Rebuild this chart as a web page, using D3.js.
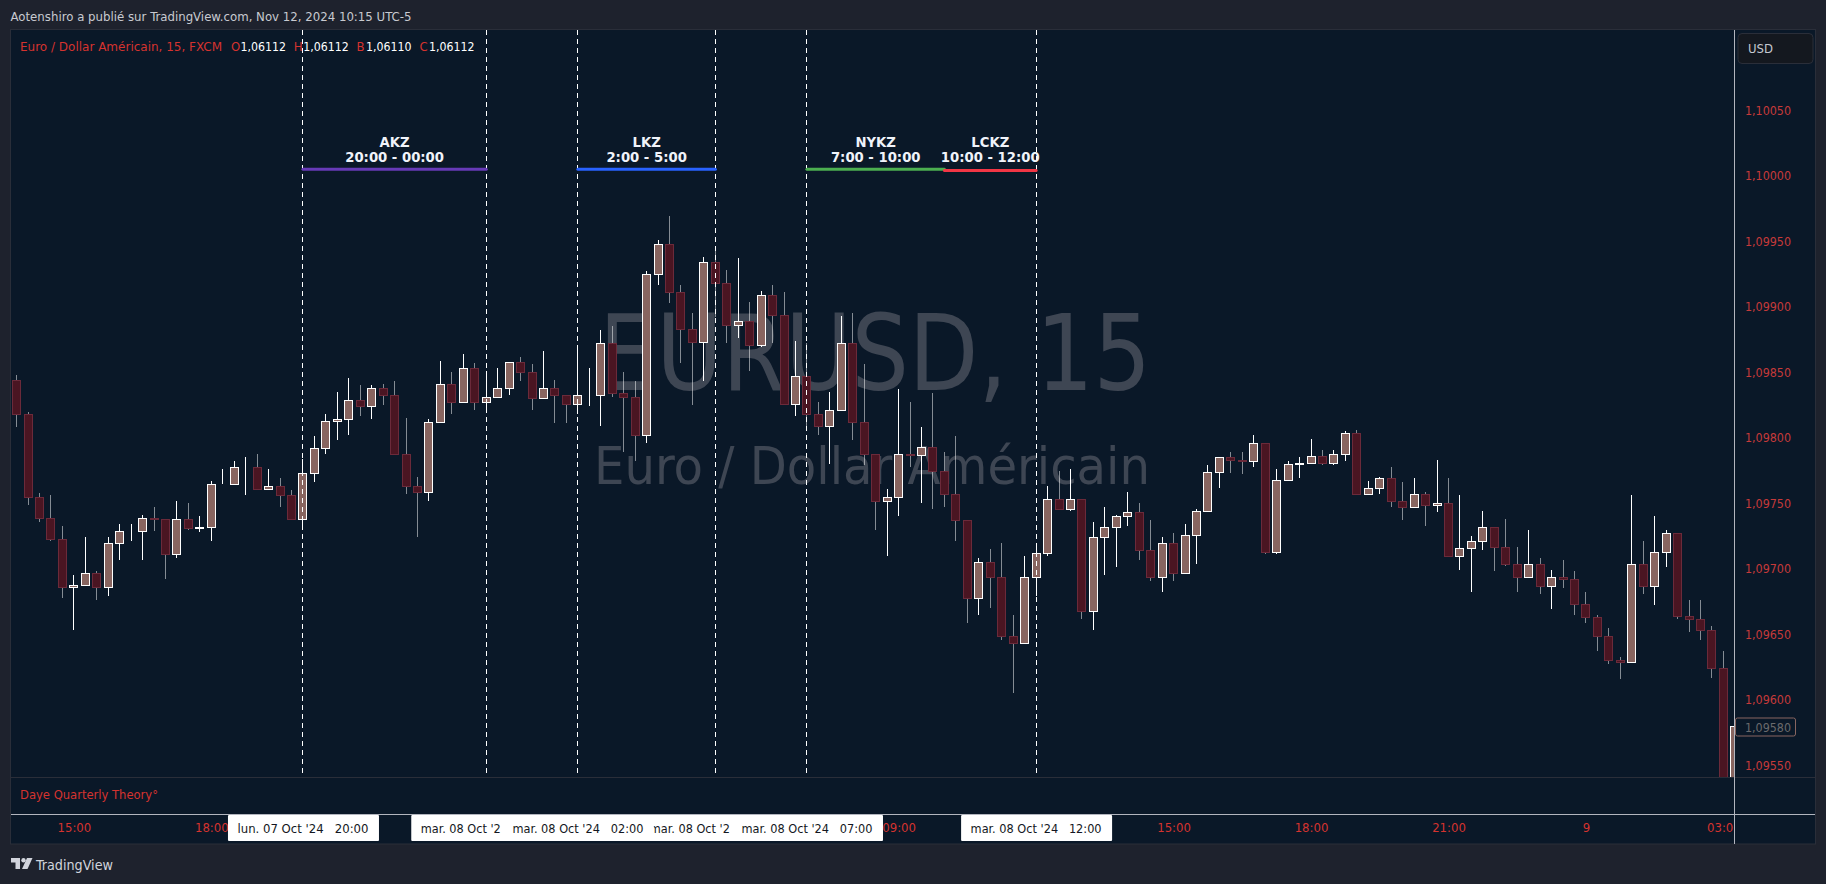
<!DOCTYPE html>
<html>
<head>
<meta charset="utf-8">
<script src="https://cdn.jsdelivr.net/npm/d3@7"></script>
<style>
    html, body { margin: 0; padding: 0; background: #1e222d; overflow: hidden; }
    svg { display: block; }
    text { font-family: 'DejaVu Sans Condensed', 'DejaVu Sans', sans-serif; font-stretch: condensed; white-space: pre; }
</style>
</head>
<body>
<svg id="chart" width="1826" height="884"></svg>
<script>
// Values, one entry per 15 minute bar
const opens = [
    1.09844, 1.09818, 1.09755, 1.09739, 1.09723, 1.09686, 1.09688, 1.09697, 1.09686, 1.09720,
    1.09729, 1.09729, 1.09739, 1.09738, 1.09711, 1.09738, 1.09731, 1.09732, 1.09765, 1.09765,
    1.09778, 1.09778, 1.09761, 1.09763, 1.09756, 1.09738, 1.09773, 1.09792, 1.09813, 1.09814,
    1.09829, 1.09824, 1.09838, 1.09833, 1.09788, 1.09763, 1.09759, 1.09812, 1.09841, 1.09827,
    1.09853, 1.09827, 1.09831, 1.09838, 1.09858, 1.09850, 1.09830, 1.09838, 1.09833, 1.09826,
    1.09833, 1.09833, 1.09872, 1.09834, 1.09831, 1.09802, 1.09925, 1.09948, 1.09911, 1.09883,
    1.09873, 1.09934, 1.09918, 1.09886, 1.09889, 1.09871, 1.09909, 1.09894, 1.09826, 1.09847,
    1.09818, 1.09809, 1.09821, 1.09872, 1.09812, 1.09788, 1.09752, 1.09755, 1.09788, 1.09787,
    1.09793, 1.09775, 1.09757, 1.09737, 1.09678, 1.09705, 1.09694, 1.09649, 1.09643, 1.09694,
    1.09712, 1.09753, 1.09746, 1.09753, 1.09668, 1.09724, 1.09732, 1.09740, 1.09743, 1.09714,
    1.09694, 1.09720, 1.09697, 1.09726, 1.09744, 1.09774, 1.09785, 1.09783, 1.09782, 1.09796,
    1.09713, 1.09768, 1.09780, 1.09781, 1.09786, 1.09781, 1.09788, 1.09804, 1.09757, 1.09762,
    1.09769, 1.09752, 1.09747, 1.09757, 1.09749, 1.09750, 1.09710, 1.09716, 1.09721, 1.09732,
    1.09717, 1.09704, 1.09694, 1.09704, 1.09687, 1.09694, 1.09692, 1.09673, 1.09663, 1.09649,
    1.09630, 1.09629, 1.09704, 1.09687, 1.09713, 1.09727, 1.09664, 1.09662, 1.09653, 1.09624,
    1.09530,
]
const highs = [
    1.09848, 1.09820, 1.09758, 1.09756, 1.09733, 1.09695, 1.09724, 1.09698, 1.09724, 1.09734,
    1.09734, 1.09741, 1.09747, 1.09738, 1.09752, 1.09750, 1.09740, 1.09767, 1.09776, 1.09782,
    1.09785, 1.09788, 1.09776, 1.09769, 1.09760, 1.09784, 1.09801, 1.09818, 1.09835, 1.09846,
    1.09840, 1.09840, 1.09841, 1.09843, 1.09815, 1.09770, 1.09814, 1.09859, 1.09850, 1.09864,
    1.09857, 1.09851, 1.09853, 1.09858, 1.09862, 1.09856, 1.09866, 1.09844, 1.09833, 1.09868,
    1.09853, 1.09882, 1.09885, 1.09850, 1.09843, 1.09927, 1.09951, 1.09969, 1.09917, 1.09895,
    1.09938, 1.09943, 1.09928, 1.09937, 1.09904, 1.09912, 1.09917, 1.09911, 1.09874, 1.09872,
    1.09827, 1.09835, 1.09893, 1.09895, 1.09856, 1.09788, 1.09761, 1.09837, 1.09827, 1.09808,
    1.09834, 1.09789, 1.09801, 1.09737, 1.09708, 1.09715, 1.09720, 1.09665, 1.09710, 1.09720,
    1.09763, 1.09775, 1.09776, 1.09753, 1.09736, 1.09747, 1.09741, 1.09759, 1.09750, 1.09737,
    1.09724, 1.09727, 1.09734, 1.09746, 1.09779, 1.09785, 1.09789, 1.09789, 1.09802, 1.09796,
    1.09776, 1.09782, 1.09785, 1.09799, 1.09791, 1.09791, 1.09805, 1.09806, 1.09767, 1.09770,
    1.09778, 1.09766, 1.09769, 1.09759, 1.09783, 1.09769, 1.09756, 1.09725, 1.09744, 1.09732,
    1.09738, 1.09717, 1.09730, 1.09708, 1.09699, 1.09707, 1.09698, 1.09682, 1.09665, 1.09655,
    1.09633, 1.09756, 1.09721, 1.09740, 1.09730, 1.09727, 1.09676, 1.09676, 1.09656, 1.09637,
    1.09580,
]
const lows = [
    1.09808, 1.09749, 1.09736, 1.09721, 1.09678, 1.09653, 1.09688, 1.09676, 1.09679, 1.09707,
    1.09721, 1.09707, 1.09729, 1.09692, 1.09708, 1.09730, 1.09728, 1.09721, 1.09765, 1.09765,
    1.09756, 1.09760, 1.09760, 1.09747, 1.09738, 1.09730, 1.09766, 1.09788, 1.09798, 1.09802,
    1.09817, 1.09814, 1.09825, 1.09788, 1.09757, 1.09724, 1.09752, 1.09812, 1.09818, 1.09827,
    1.09821, 1.09821, 1.09831, 1.09833, 1.09843, 1.09821, 1.09830, 1.09811, 1.09811, 1.09818,
    1.09824, 1.09809, 1.09831, 1.09789, 1.09782, 1.09796, 1.09917, 1.09903, 1.09857, 1.09825,
    1.09843, 1.09892, 1.09872, 1.09876, 1.09851, 1.09869, 1.09872, 1.09826, 1.09817, 1.09809,
    1.09802, 1.09780, 1.09821, 1.09798, 1.09779, 1.09730, 1.09710, 1.09740, 1.09778, 1.09750,
    1.09746, 1.09747, 1.09721, 1.09659, 1.09665, 1.09670, 1.09646, 1.09605, 1.09643, 1.09679,
    1.09710, 1.09746, 1.09744, 1.09662, 1.09653, 1.09695, 1.09701, 1.09733, 1.09707, 1.09691,
    1.09682, 1.09691, 1.09697, 1.09704, 1.09743, 1.09762, 1.09773, 1.09772, 1.09778, 1.09711,
    1.09711, 1.09767, 1.09769, 1.09780, 1.09779, 1.09779, 1.09782, 1.09757, 1.09756, 1.09757,
    1.09747, 1.09737, 1.09747, 1.09733, 1.09743, 1.09710, 1.09699, 1.09682, 1.09714, 1.09698,
    1.09702, 1.09682, 1.09694, 1.09681, 1.09669, 1.09685, 1.09665, 1.09659, 1.09637, 1.09627,
    1.09616, 1.09629, 1.09681, 1.09672, 1.09701, 1.09662, 1.09652, 1.09646, 1.09617, 1.09525,
    1.09525,
]
const closes = [
    1.09818, 1.09755, 1.09739, 1.09723, 1.09686, 1.09688, 1.09697, 1.09686, 1.09720, 1.09729,
    1.09729, 1.09739, 1.09738, 1.09711, 1.09738, 1.09731, 1.09732, 1.09765, 1.09765, 1.09778,
    1.09778, 1.09761, 1.09763, 1.09756, 1.09738, 1.09773, 1.09792, 1.09813, 1.09814, 1.09829,
    1.09824, 1.09838, 1.09833, 1.09788, 1.09763, 1.09759, 1.09812, 1.09841, 1.09827, 1.09853,
    1.09827, 1.09831, 1.09838, 1.09858, 1.09850, 1.09830, 1.09838, 1.09833, 1.09826, 1.09833,
    1.09833, 1.09872, 1.09834, 1.09831, 1.09802, 1.09925, 1.09948, 1.09911, 1.09883, 1.09873,
    1.09934, 1.09918, 1.09886, 1.09889, 1.09871, 1.09909, 1.09894, 1.09826, 1.09847, 1.09818,
    1.09809, 1.09821, 1.09872, 1.09812, 1.09788, 1.09752, 1.09755, 1.09788, 1.09787, 1.09793,
    1.09775, 1.09757, 1.09737, 1.09678, 1.09705, 1.09694, 1.09649, 1.09643, 1.09694, 1.09712,
    1.09753, 1.09746, 1.09753, 1.09668, 1.09724, 1.09732, 1.09740, 1.09743, 1.09714, 1.09694,
    1.09720, 1.09697, 1.09726, 1.09744, 1.09774, 1.09785, 1.09783, 1.09782, 1.09796, 1.09713,
    1.09768, 1.09780, 1.09781, 1.09786, 1.09781, 1.09788, 1.09804, 1.09757, 1.09762, 1.09769,
    1.09752, 1.09747, 1.09757, 1.09749, 1.09750, 1.09710, 1.09716, 1.09721, 1.09732, 1.09717,
    1.09704, 1.09694, 1.09704, 1.09687, 1.09694, 1.09692, 1.09673, 1.09663, 1.09649, 1.09630,
    1.09629, 1.09704, 1.09687, 1.09713, 1.09727, 1.09664, 1.09662, 1.09653, 1.09624, 1.09530,
    1.09580,
]

const priceTicks = [1.1005, 1.1, 1.0995, 1.099, 1.0985, 1.098, 1.0975, 1.097, 1.0965, 1.096, 1.0955]
const lastPrice = 1.0958

// Time axis labels and the bar they sit under
const timeTickBars = [5, 17, 77, 89, 101, 113, 125, 137, 149]
const timeTickLabels = ['15:00', '18:00', '09:00', '12:00', '15:00', '18:00', '21:00', '9', '03:00']

// Kill zones
const zoneNames = ['AKZ', 'LKZ', 'NYKZ', 'LCKZ']
const zoneTimes = ['20:00 - 00:00', '2:00 - 5:00', '7:00 - 10:00', '10:00 - 12:00']
const zoneStarts = [25, 49, 69, 81]
const zoneEnds = [41, 61, 81, 89]
const zonePrices = [1.10005, 1.10005, 1.10005, 1.10004]
const zoneColors = ['#673ab7', '#2962ff', '#4caf50', '#f23645']

// Vertical session lines and their axis tags. Two tags are cut short by their neighbours
const sessionBars = [25, 41, 49, 61, 69, 89]
const sessionTags = [
    "lun. 07 Oct '24   20:00",
    "mar. 08 Oct '2",
    "mar. 08 Oct '24   02:00",
    "mar. 08 Oct '2",
    "mar. 08 Oct '24   07:00",
    "mar. 08 Oct '24   12:00",
]
// Stacking order of the tags on the axis
const tagOrder = [0, 1, 3, 2, 4, 5]

const legendLabels = ['O', 'H', 'B', 'C']
const legendValues = ['1,06112', '1,06112', '1,06110', '1,06112']

const RED = '#d5332f'
const AXIS_RED = '#c63a3a'
const PANE = '#0a1828'
const BORDER = '#2a2e39'

const fmtPrice = (d) => d3.format('.5f')(d).replace('.', ',')

const svg = d3.select('#chart')

const x = d3.scaleLinear().domain([0, 150]).range([16.6, 1734.85])
const y = d3.scaleLinear().domain([1.0955, 1.1005]).range([765.3, 110.3])
const px = (i) => Math.floor(x(i)) + 0.5
const py = (p) => Math.round(y(p))

// Background panes
svg.append('rect').attr('x', 10.5).attr('y', 29.5).attr('width', 1805).attr('height', 814.5)
    .attr('fill', PANE).attr('stroke', BORDER)

svg.append('defs').append('clipPath').attr('id', 'pane-clip')
    .append('rect').attr('x', 11).attr('y', 30).attr('width', 1723).attr('height', 747)
svg.select('defs').append('clipPath').attr('id', 'time-clip')
    .append('rect').attr('x', 11).attr('y', 815).attr('width', 1723).attr('height', 29)

// Watermark
const watermark = svg.append('g').attr('fill', '#3e4653').attr('text-anchor', 'middle')
    .style('font-stretch', 'normal')
watermark.append('text').attr('x', 875).attr('y', 390).attr('font-size', 106)
    .attr('textLength', 552).attr('lengthAdjust', 'spacingAndGlyphs')
    .style('font-family', "'DejaVu Sans', sans-serif").text('EURUSD, 15')
watermark.append('text').attr('x', 872).attr('y', 484).attr('font-size', 52)
    .attr('textLength', 556).attr('lengthAdjust', 'spacingAndGlyphs')
    .style('font-family', "'DejaVu Sans', sans-serif").text('Euro / Dollar Américain')

// Candles
const bars = d3.range(opens.length)
const candles = svg.append('g').attr('clip-path', 'url(#pane-clip)')
    .selectAll('g').data(bars).join('g')

candles.append('line')
    .attr('x1', (i) => px(i)).attr('x2', (i) => px(i))
    .attr('y1', (i) => py(highs[i])).attr('y2', (i) => py(lows[i]))
    .attr('stroke', (i) => (closes[i] >= opens[i] ? '#ffffff' : 'rgba(255,255,255,0.5)'))

candles.append('rect')
    .attr('x', (i) => px(i) - 4).attr('width', 8)
    .attr('y', (i) => py(Math.max(opens[i], closes[i])) + 0.5)
    .attr('height', (i) => Math.abs(py(opens[i]) - py(closes[i])))
    .attr('fill', (i) => (closes[i] >= opens[i] ? '#886560' : '#4a1522'))
    .attr('stroke', (i) => (closes[i] >= opens[i] ? '#ffffff' : '#6b2a3a'))

// Dashed session lines, on top of the candles
svg.append('g').selectAll('line').data(sessionBars).join('line')
    .attr('x1', (d) => px(d)).attr('x2', (d) => px(d))
    .attr('y1', 30).attr('y2', 777)
    .attr('stroke', '#ffffff').attr('stroke-dasharray', '5 4')

// Kill zone segments and captions
svg.append('g').selectAll('line').data(zoneNames).join('line')
    .attr('x1', (d, i) => x(zoneStarts[i])).attr('x2', (d, i) => x(zoneEnds[i]))
    .attr('y1', (d, i) => y(zonePrices[i])).attr('y2', (d, i) => y(zonePrices[i]))
    .attr('stroke', (d, i) => zoneColors[i]).attr('stroke-width', 3).attr('stroke-linecap', 'round')

const captions = svg.append('g').attr('fill', '#f0f3fa').attr('font-weight', 700)
    .attr('font-size', 14.7).attr('text-anchor', 'middle')
captions.selectAll('.name').data(zoneNames).join('text').attr('class', 'name')
    .attr('x', (d, i) => (x(zoneStarts[i]) + x(zoneEnds[i])) / 2).attr('y', 146.5).text((d) => d)
captions.selectAll('.time').data(zoneTimes).join('text').attr('class', 'time')
    .attr('x', (d, i) => (x(zoneStarts[i]) + x(zoneEnds[i])) / 2).attr('y', 162).text((d) => d)

// Pane separators and crosshair
svg.append('line').attr('x1', 11).attr('x2', 1815).attr('y1', 777.5).attr('y2', 777.5).attr('stroke', BORDER)
svg.append('line').attr('x1', 11).attr('x2', 1815).attr('y1', 814.5).attr('y2', 814.5).attr('stroke', '#b2b5be')
svg.append('line').attr('x1', 1734.5).attr('x2', 1734.5).attr('y1', 30).attr('y2', 844).attr('stroke', '#b2b5be')

// Price axis
const priceAxis = d3.axisRight(y).tickValues(priceTicks).tickFormat(fmtPrice).tickSize(0).tickPadding(0)
const priceG = svg.append('g').attr('transform', 'translate(1745,0)').call(priceAxis)
priceG.select('.domain').remove()
priceG.selectAll('text').attr('fill', AXIS_RED).attr('font-size', 13).attr('x', 0)
    .attr('textLength', 46).attr('lengthAdjust', 'spacingAndGlyphs')

// Last price tag
svg.append('rect').attr('x', 1735.5).attr('y', y(lastPrice) - 8).attr('width', 60).attr('height', 18)
    .attr('rx', 2).attr('fill', PANE).attr('stroke', '#886560')
svg.append('text').attr('x', 1745).attr('y', y(lastPrice) + 5.5).attr('fill', '#6a6a6c').attr('font-size', 13)
    .attr('textLength', 46).attr('lengthAdjust', 'spacingAndGlyphs').text(fmtPrice(lastPrice))

// USD button
svg.append('rect').attr('x', 1738).attr('y', 33.5).attr('width', 75).attr('height', 30)
    .attr('rx', 4).attr('fill', '#14181f').attr('stroke', BORDER)
svg.append('text').attr('x', 1748).attr('y', 53).attr('fill', '#c5c8d0').attr('font-size', 13).text('USD')

// Time axis, the 12:00 label lies under its white tag
const timeAxis = d3.axisBottom(x).tickValues(timeTickBars.filter((d) => !sessionBars.includes(d)))
    .tickFormat((d) => timeTickLabels[timeTickBars.indexOf(d)]).tickSize(0).tickPadding(0)
const timeG = svg.append('g').attr('clip-path', 'url(#time-clip)')
    .append('g').attr('transform', 'translate(0,820)').call(timeAxis)
timeG.select('.domain').remove()
timeG.selectAll('text').attr('fill', RED).attr('font-size', 13).attr('y', 0).attr('dy', '0.95em')

// White tags for the session lines
const tags = svg.append('g').selectAll('g').data(tagOrder).join('g')
    .attr('transform', (k) => `translate(${x(sessionBars[k])},0)`)
tags.append('rect').attr('x', -75).attr('y', 815).attr('width', 151).attr('height', 26)
    .attr('rx', 1).attr('fill', '#ffffff')
tags.append('text').attr('x', -65.5).attr('y', 833)
    .attr('fill', '#131722').attr('font-size', 13)
    .attr('textLength', (k) => (sessionTags[k].length < 20 ? 80 : 131)).attr('lengthAdjust', 'spacingAndGlyphs')
    .text((k) => sessionTags[k])

// Titles
svg.append('text').attr('x', 10.5).attr('y', 21).attr('fill', '#c8cad0').attr('font-size', 13)
    .attr('textLength', 401).attr('lengthAdjust', 'spacingAndGlyphs')
    .text('Aotenshiro a publié sur TradingView.com, Nov 12, 2024 10:15 UTC-5')

svg.append('text').attr('x', 20).attr('y', 51).attr('fill', RED).attr('font-size', 13)
    .attr('textLength', 202).attr('lengthAdjust', 'spacingAndGlyphs')
    .text('Euro / Dollar Américain, 15, FXCM')

const legend = svg.append('g').selectAll('g').data(legendLabels).join('g')
    .attr('transform', (d, i) => `translate(${231 + i * 62.8},51)`)
legend.append('text').attr('fill', RED).attr('font-size', 13).text((d) => d)
legend.append('text').attr('x', 9.5).attr('fill', '#ffffff').attr('font-size', 13)
    .attr('textLength', 45.5).attr('lengthAdjust', 'spacingAndGlyphs')
    .text((d, i) => legendValues[i])

svg.append('text').attr('x', 20).attr('y', 799).attr('fill', RED).attr('font-size', 13)
    .attr('textLength', 138).attr('lengthAdjust', 'spacingAndGlyphs')
    .text('Daye Quarterly Theory°')

// TradingView logo
const logo = svg.append('g').attr('transform', 'translate(11,858)').attr('fill', '#d1d4dc')
logo.append('path').attr('d', 'M0 0H9V11H4.5V4.5H0Z')
logo.append('circle').attr('cx', 12.5).attr('cy', 2.2).attr('r', 2.2)
logo.append('path').attr('d', 'M16 0H21.5L16.5 11H11Z')
svg.append('text').attr('x', 36).attr('y', 870).attr('fill', '#d1d4dc').attr('font-size', 14)
    .attr('textLength', 77).attr('lengthAdjust', 'spacingAndGlyphs').text('TradingView')
</script>
</body>
</html>
